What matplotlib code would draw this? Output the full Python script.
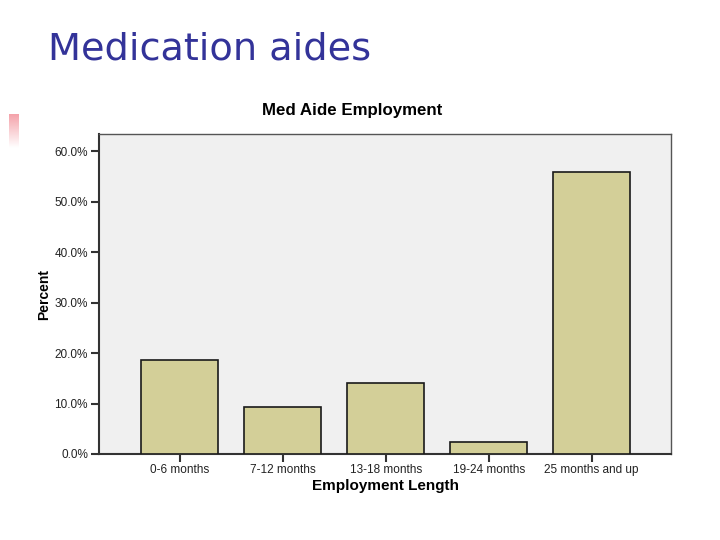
import matplotlib
matplotlib.use("Agg")
import matplotlib.pyplot as plt
import numpy as np
from matplotlib.ticker import FuncFormatter
from matplotlib.colors import LinearSegmentedColormap

categories = ["0-6 months", "7-12 months", "13-18 months", "19-24 months", "25 months and up"]
percents = [18.6, 9.3, 14.0, 2.3, 55.8]
yticks = [0, 10, 20, 30, 40, 50, 60]

W, H = 720, 540
fig = plt.figure(figsize=(7.2, 5.4), dpi=100)
fig.patch.set_facecolor("white")

# slide title
fig.text(48 / W, 1 - 50 / H, "Medication aides", fontsize=27.5, color="#333399",
         family="DejaVu Sans", va="center", ha="left")

# pink decorative gradient mark
deco = fig.add_axes([9 / W, 1 - 148 / H, 10 / W, 34 / H])
grad = np.linspace(0, 1, 50).reshape(-1, 1)
cmap = LinearSegmentedColormap.from_list("pk", ["#f4a0a8", "#ffffff"])
deco.imshow(grad, aspect="auto", cmap=cmap, extent=[0, 1, 1, 0])
deco.axis("off")

# main chart
left, right, top, bottom = 99, 671, 134, 454
ax = fig.add_axes([left / W, 1 - bottom / H, (right - left) / W, (bottom - top) / H])
ax.set_facecolor("#f0f0f0")
x = np.arange(len(categories))
ax.bar(x, percents, width=0.75, color="#d3cf98", edgecolor="#1a1a1a", linewidth=1.2, zorder=3)
ax.set_xlim(-0.785, 4.77)
ax.set_ylim(0, 63.4)
ax.set_yticks(yticks)
ax.yaxis.set_major_formatter(FuncFormatter(lambda v, p: f"{v:.1f}%"))
ax.set_xticks(x)
ax.set_xticklabels(categories)
for lbl in ax.get_xticklabels() + ax.get_yticklabels():
    lbl.set_family("Liberation Sans")
    lbl.set_fontsize(8.5)
    lbl.set_color("#222222")
ax.tick_params(axis="both", direction="out", length=6, width=1.5, color="#333333")
ax.tick_params(axis="x", pad=1)
ax.tick_params(axis="y", pad=2)
for s in ["left", "bottom"]:
    ax.spines[s].set_color("#333333")
    ax.spines[s].set_linewidth(1.5)
for s in ["top", "right"]:
    ax.spines[s].set_color("#555555")
    ax.spines[s].set_linewidth(1.0)
ax.set_xlabel("Employment Length", family="Liberation Sans", fontweight="bold", fontsize=11, labelpad=2)
ax.set_ylabel("Percent", family="Liberation Sans", fontweight="bold", fontsize=10, labelpad=2)
fig.text(352 / W, 1 - 110 / H, "Med Aide Employment", family="Liberation Sans",
         fontweight="bold", fontsize=12.2, ha="center", va="center")

fig.savefig("out.png", dpi=100)
